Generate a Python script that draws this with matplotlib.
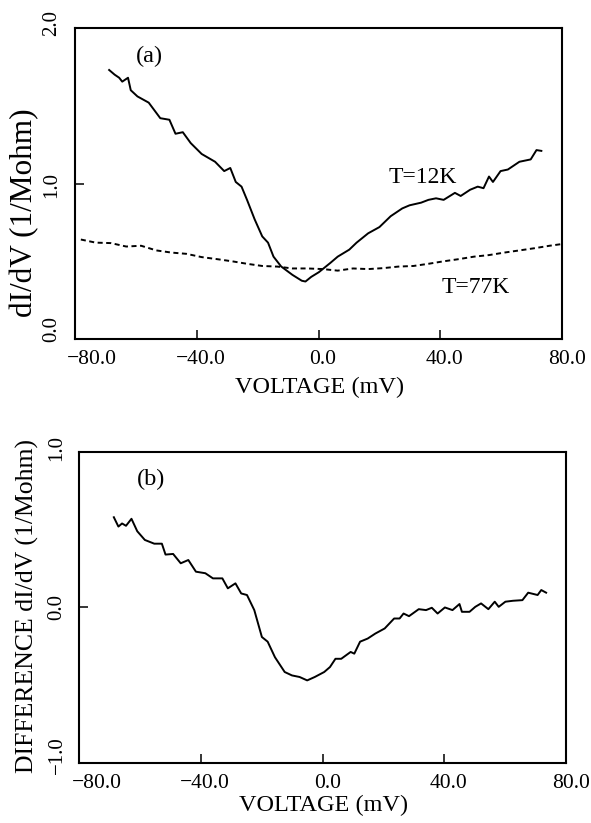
import matplotlib
matplotlib.use("Agg")
import matplotlib.pyplot as plt
from matplotlib.transforms import blended_transform_factory, offset_copy

plt.rcParams["font.family"] = ["Liberation Serif", "DejaVu Serif"]

# panel (a): T=12K conductance
v12 = [-68.8, -67.0, -65.5, -64.5, -62.6, -61.7, -59.5, -55.8, -52.0, -49.0,
       -47.0, -44.6, -42.0, -38.4, -34.0, -31.0, -29.0, -27.2, -25.3, -23.5,
       -21.0, -18.5, -16.6, -14.8, -12.3, -8.6, -5.5, -4.3, -2.4, 0.1,
       3.9, 6.3, 10.1, 12.5, 16.3, 20.0, 23.7, 27.5, 29.9, 33.7,
       36.1, 38.6, 41.1, 44.8, 46.7, 49.8, 52.3, 54.2, 56.0, 57.3,
       59.8, 62.2, 66.0, 69.7, 71.6, 73.2]
g12 = [1.73, 1.70, 1.68, 1.655, 1.68, 1.60, 1.56, 1.52, 1.42, 1.41,
       1.32, 1.33, 1.26, 1.19, 1.14, 1.08, 1.10, 1.01, 0.98, 0.895,
       0.77, 0.66, 0.62, 0.53, 0.467, 0.413, 0.375, 0.37, 0.40, 0.43,
       0.49, 0.53, 0.575, 0.62, 0.68, 0.72, 0.79, 0.84, 0.86, 0.877,
       0.895, 0.905, 0.895, 0.94, 0.92, 0.96, 0.98, 0.97, 1.045, 1.01,
       1.08, 1.09, 1.14, 1.155, 1.215, 1.21]

# panel (a): T=77K conductance
v77 = [-78.1, -73.2, -68.2, -63.2, -58.3, -53.3, -48.3, -43.4, -38.4, -33.4,
       -28.4, -23.5, -18.5, -13.5, -8.6, -3.6, 1.4, 6.3, 11.3, 16.3,
       21.2, 26.2, 31.2, 36.1, 41.1, 46.1, 51.1, 56.0, 61.0, 66.0,
       70.9, 75.9, 79.6]
g77 = [0.64, 0.62, 0.617, 0.595, 0.60, 0.57, 0.556, 0.548, 0.527, 0.514,
       0.50, 0.484, 0.47, 0.466, 0.454, 0.454, 0.45, 0.44, 0.454, 0.45,
       0.456, 0.466, 0.47, 0.484, 0.50, 0.514, 0.53, 0.54, 0.556, 0.57,
       0.584, 0.60, 0.61]

# panel (b): difference 12K - 77K
vd = [-68.7, -67.2, -66.0, -64.7, -62.9, -61.0, -58.5, -55.4, -52.9, -51.7,
      -49.2, -46.7, -44.2, -41.7, -38.6, -36.1, -33.0, -31.2, -28.7, -26.8,
      -24.9, -22.5, -20.0, -18.1, -15.7, -12.5, -10.1, -7.6, -5.1, -2.6,
      0.5, 2.4, 4.2, 6.1, 9.2, 10.4, 12.3, 14.8, 17.3, 20.4,
      23.5, 25.3, 26.6, 28.4, 31.6, 34.0, 35.9, 37.8, 40.2, 42.7,
      45.0, 45.8, 48.3, 50.2, 52.1, 54.5, 56.6, 57.9, 60.1, 62.6,
      65.7, 67.6, 70.7, 71.9, 73.5]
gd = [0.58, 0.52, 0.54, 0.525, 0.57, 0.49, 0.434, 0.41, 0.41, 0.34,
      0.344, 0.284, 0.305, 0.23, 0.22, 0.187, 0.187, 0.123, 0.155, 0.09,
      0.08, -0.017, -0.19, -0.22, -0.32, -0.415, -0.437, -0.447, -0.469, -0.447,
      -0.415, -0.383, -0.33, -0.33, -0.286, -0.297, -0.22, -0.2, -0.168, -0.135,
      -0.071, -0.071, -0.039, -0.056, -0.011, -0.017, -0.002, -0.039, 0.0, -0.017,
      0.022, -0.028, -0.028, 0.004, 0.026, -0.011, 0.037, 0.004, 0.037, 0.043,
      0.047, 0.095, 0.08, 0.112, 0.095]

xticks = [-80, -40, 0, 40, 80]
yticks_a = [0.0, 1.0, 2.0]
yticks_b = [-1.0, 0.0, 1.0]

# label nudges (pixels) to mimic the old plotter's placement
XLAB_DX = [17, 4, 4.5, 4.5, 5]
YLAB_DY_A = [10.5, -1.5, 4.5]
YLAB_DY_B = [8, 0, 4]


def fmt(t):
    return f"{t:.1f}".replace("-", "\u2212")


def style(ax, yticks, ydy, ylab_dx):
    ax.set_xlim(-80, 80)
    ax.set_xticks(xticks)
    ax.set_yticks(yticks)
    ax.tick_params(direction="in", length=6.5, width=1.1,
                   labelbottom=False, labelleft=False)
    for sp in ax.spines.values():
        sp.set_linewidth(1.5)
    bx = blended_transform_factory(ax.transData, ax.transAxes)
    for t, dx in zip(xticks, XLAB_DX):
        tr = offset_copy(bx, fig=fig, x=dx, y=-20, units="dots")
        ax.text(t, 0, fmt(t), transform=tr, ha="center", va="center",
                fontsize=15.5)
    by = blended_transform_factory(ax.transAxes, ax.transData)
    for t, dy in zip(yticks, ydy):
        tr = offset_copy(by, fig=fig, x=-ylab_dx, y=dy, units="dots")
        ax.text(0, t, fmt(t), transform=tr, ha="center", va="center",
                rotation=90, fontsize=15)


fig = plt.figure(figsize=(5.91, 8.23), dpi=100)

ax1 = fig.add_axes([0.127, 0.588, 0.824, 0.378])
ax1.plot(v12, g12, color="black", lw=1.4)
ax1.plot(v77, g77, color="black", lw=1.4, dashes=(2.6, 1.8))
ax1.set_ylim(0, 2.0)
style(ax1, yticks_a, YLAB_DY_A, 23)
ax1.set_xlabel("VOLTAGE (mV)", fontsize=17.5, va="center")
ax1.xaxis.set_label_coords(0.503, -0.155)
ax1.set_ylabel("dI/dV (1/Mohm)", fontsize=22.5, va="center")
ax1.yaxis.set_label_coords(-0.103, 0.405)
ax1.text(-55.7, 1.82, "(a)", fontsize=17.5, ha="center", va="center")
ax1.text(34.3, 1.04, "T=12K", fontsize=17, ha="center", va="center")
ax1.text(51.7, 0.334, "T=77K", fontsize=17, ha="center", va="center")

ax2 = fig.add_axes([0.1345, 0.0729, 0.823, 0.378])
ax2.plot(vd, gd, color="black", lw=1.4)
ax2.set_ylim(-1.0, 1.0)
style(ax2, yticks_b, YLAB_DY_B, 22.5)
ax2.set_xlabel("VOLTAGE (mV)", fontsize=17.5, va="center")
ax2.xaxis.set_label_coords(0.502, -0.135)
ax2.set_ylabel("DIFFERENCE dI/dV (1/Mohm)", fontsize=18.5, va="center")
ax2.yaxis.set_label_coords(-0.108, 0.505)
ax2.text(-56.6, 0.826, "(b)", fontsize=17.5, ha="center", va="center")

fig.savefig("out.png", dpi=100)
